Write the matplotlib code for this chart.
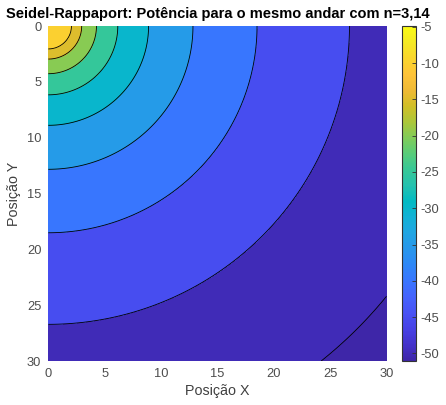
import numpy as np
import matplotlib
matplotlib.use('Agg')
import matplotlib.pyplot as plt
from matplotlib.colors import LinearSegmentedColormap, Normalize
from matplotlib.cm import ScalarMappable

plt.rcParams['font.family'] = ['Liberation Sans', 'DejaVu Sans']
plt.rcParams['axes.unicode_minus'] = False

# model parameters (Seidel-Rappaport, same floor)
n = 3.14
P0 = -0.2         # power at d0 = 1
size = 30         # room size

# contour levels and colour limits
levels = [-50, -45, -40, -35, -30, -25, -20, -15, -10]
clim = (-51.05, -4.9)
xticks = [0, 5, 10, 15, 20, 25, 30]
cticks = [-50, -45, -40, -35, -30, -25, -20, -15, -10, -5]

# parula (MATLAB) colormap, every 3rd entry
parula_rgb = [
    (0.2422, 0.1504, 0.6603), (0.2647, 0.1978, 0.7952), (0.2783, 0.2559, 0.8991),
    (0.2810, 0.3228, 0.9579), (0.2699, 0.3892, 0.9906), (0.2206, 0.4603, 0.9973),
    (0.1786, 0.5289, 0.9682), (0.1540, 0.5902, 0.9218), (0.1248, 0.6459, 0.8883),
    (0.0689, 0.6948, 0.8394), (0.0067, 0.7312, 0.7660), (0.1408, 0.7584, 0.6842),
    (0.2161, 0.7843, 0.5923), (0.3406, 0.8008, 0.4789), (0.5044, 0.7993, 0.3480),
    (0.6720, 0.7793, 0.2227), (0.8203, 0.7498, 0.1535), (0.9393, 0.7288, 0.2100),
    (0.9970, 0.7659, 0.2199), (0.9786, 0.8386, 0.1766), (0.9597, 0.9135, 0.1423),
    (0.9769, 0.9839, 0.0805)]
parula = LinearSegmentedColormap.from_list('parula', parula_rgb)
norm = Normalize(*clim)

# power field
x = np.linspace(0, size, 601)
X, Y = np.meshgrid(x, x)
d = np.maximum(np.hypot(X, Y), 1e-3)
P = P0 - 10 * n * np.log10(d)

# MATLAB style: each band takes the colour of its lower level
bounds = [-200] + levels + [200]
fill_colors = [parula(0.0)] + [parula(norm(lv)) for lv in levels]

fig = plt.figure(figsize=(4.46, 4.05), dpi=100)
ax = fig.add_axes([0.1083, 0.1086, 0.7583, 0.8272])
cax = fig.add_axes([0.9013, 0.1086, 0.0314, 0.8272])

ax.contourf(X, Y, P, levels=bounds, colors=fill_colors)
ax.contour(X, Y, P, levels=levels, colors='black', linewidths=0.6,
           linestyles='solid')

ax.set_xlim(0, size)
ax.set_ylim(size, 0)
ax.set_xticks(xticks)
ax.set_yticks(xticks)
for s in ax.spines.values():
    s.set_visible(False)
ax.tick_params(length=0, labelsize=9.3, labelcolor='0.3', pad=5)
ax.set_xlabel('Posição X', fontsize=10.3, color='0.25', labelpad=3)
ax.set_ylabel('Posição Y', fontsize=10.3, color='0.25', labelpad=4)
ax.set_title('Seidel-Rappaport: Potência para o mesmo andar com n=3,14',
             fontsize=10.5, fontweight='bold', pad=6)

cb = fig.colorbar(ScalarMappable(norm=norm, cmap=parula), cax=cax)
cb.set_ticks(cticks)
cb.outline.set_edgecolor('0.2')
cb.outline.set_linewidth(0.8)
cax.tick_params(direction='in', length=3, width=0.6, color='0.2',
                labelsize=9.3, labelcolor='0.3', pad=3)

fig.savefig('out.png', dpi=100)
